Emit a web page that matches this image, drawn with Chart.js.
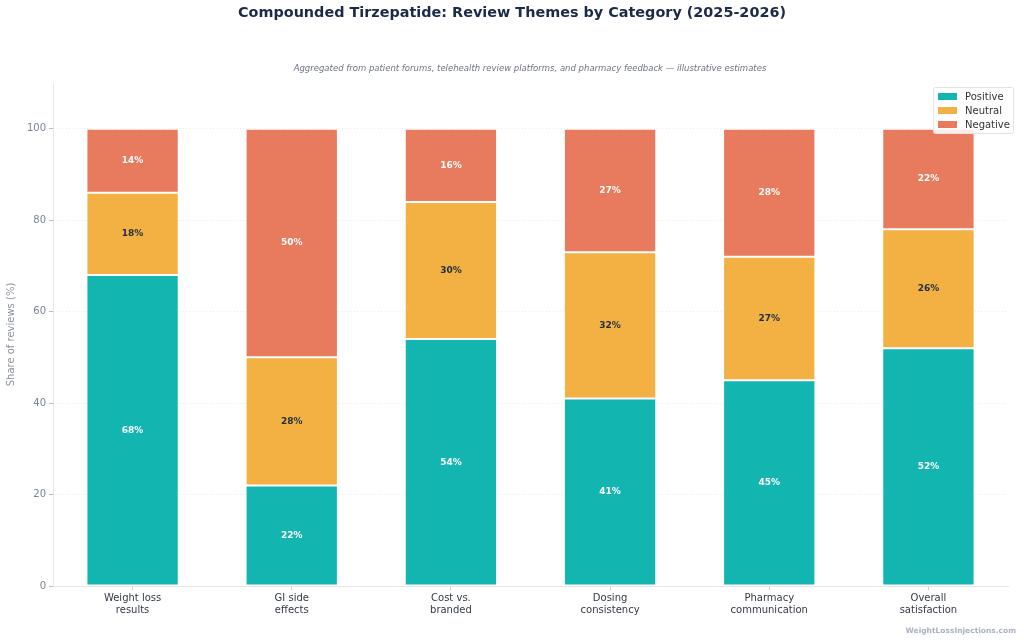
<!DOCTYPE html>
<html>
<head>
<meta charset="utf-8">
<script src="https://cdn.jsdelivr.net/npm/chart.js@4.4.1/dist/chart.umd.min.js"></script>
<style>
  html, body { margin: 0; padding: 0; background: #fff; }
  #wrap { width: 1024px; height: 641px; position: relative; }
</style>
</head>
<body>
<div id="wrap"><canvas id="reviewChart"></canvas></div>
<script>
// ------------------ Data ------------------
const categories = [
  ["Weight loss", "results"],
  ["GI side", "effects"],
  ["Cost vs.", "branded"],
  ["Dosing", "consistency"],
  ["Pharmacy", "communication"],
  ["Overall", "satisfaction"]
];
const positive = [68, 22, 54, 41, 45, 52];
const neutral = [18, 28, 30, 32, 27, 26];
const negative = [14, 50, 16, 27, 28, 22];
const yTicks = [0, 20, 40, 60, 80, 100];

const seriesNames = ["Positive", "Neutral", "Negative"];
const seriesColors = ["#13b5b1", "#f2b142", "#e87a5d"];
const labelColors = ["#ffffff", "#1f2d3d", "#ffffff"];

const FONT = "'DejaVu Sans', sans-serif";

// ------------------ Title / subtitle / watermark ------------------
const headerPlugin = {
  id: "header",
  afterDraw(chart) {
    const c = chart.ctx;
    c.save();
    c.textAlign = "center";
    c.textBaseline = "middle";
    c.fillStyle = "#1b2a47";
    c.font = "bold 14.4px " + FONT;
    c.fillText("Compounded Tirzepatide: Review Themes by Category (2025-2026)", 512, 13);
    c.fillStyle = "#6b7280";
    c.font = "italic 8.5px " + FONT;
    c.fillText("Aggregated from patient forums, telehealth review platforms, and pharmacy feedback \u2014 illustrative estimates", 530, 69);
    c.textAlign = "right";
    c.fillStyle = "#a9b0c2";
    c.font = "bold 7.5px " + FONT;
    c.fillText("WeightLossInjections.com", 1016, 631);
    c.restore();
  }
};

// ------------------ Segment labels ------------------
const segmentLabels = {
  id: "segmentLabels",
  afterDatasetsDraw(chart) {
    const c = chart.ctx;
    c.save();
    c.textAlign = "center";
    c.textBaseline = "middle";
    c.font = "bold 9px " + FONT;
    chart.data.datasets.forEach((ds, i) => {
      chart.getDatasetMeta(i).data.forEach((bar, j) => {
        const mid = (bar.y + bar.base) / 2;
        c.fillStyle = labelColors[i];
        c.fillText(ds.data[j] + "%", bar.x, mid);
      });
    });
    c.restore();
  }
};

// ------------------ Legend box inside plot ------------------
const boxLegend = {
  id: "boxLegend",
  afterDraw(chart) {
    const c = chart.ctx;
    const x = 933, y = 87, w = 80, h = 46;
    c.save();
    c.fillStyle = "rgba(255,255,255,0.85)";
    c.strokeStyle = "#e3e3e3";
    c.lineWidth = 1;
    c.beginPath();
    c.roundRect(x + 0.5, y + 0.5, w, h, 2);
    c.fill();
    c.stroke();
    c.font = "10px " + FONT;
    c.textBaseline = "middle";
    seriesNames.forEach((name, i) => {
      const cy = y + 9 + i * 14;
      c.fillStyle = seriesColors[i];
      c.fillRect(x + 5, cy - 3, 19, 7);
      c.fillStyle = "#333333";
      c.fillText(name, x + 32, cy + 1);
    });
    c.restore();
  }
};

const ctx = document.getElementById("reviewChart").getContext("2d");

new Chart(ctx, {
  type: "bar",
  data: {
    labels: categories,
    datasets: [positive, neutral, negative].map((vals, i) => ({
      label: seriesNames[i],
      data: vals,
      backgroundColor: seriesColors[i],
      borderColor: "#ffffff",
      borderWidth: 1,
      borderSkipped: false,
      barPercentage: 0.58,
      categoryPercentage: 1.0
    }))
  },
  options: {
    responsive: true,
    maintainAspectRatio: false,
    animation: false,
    layout: {
      padding: { top: 83, bottom: 0, left: 0, right: 16 }
    },
    plugins: {
      legend: { display: false },
      tooltip: { enabled: false }
    },
    scales: {
      x: {
        stacked: true,
        grid: {
          offset: false,
          drawOnChartArea: false,
          drawTicks: true,
          tickLength: 4,
          color: "#cccccc"
        },
        border: { color: "#e6e6e6" },
        ticks: {
          color: "#333a45",
          font: { family: FONT, size: 10 },
          padding: 2,
          maxRotation: 0,
          autoSkip: false
        },
        afterFit(scale) { scale.height = 55; }
      },
      y: {
        stacked: true,
        min: 0,
        max: 110,
        afterBuildTicks(scale) {
          scale.ticks = yTicks.map(v => ({ value: v }));
        },
        grid: {
          color: "#ececec",
          tickColor: "#bbbbbb",
          tickLength: 4,
          drawTicks: true
        },
        border: { color: "#e6e6e6", dash: [1, 2] },
        ticks: {
          color: "#7a8494",
          font: { family: FONT, size: 10 },
          padding: 3
        },
        title: {
          display: true,
          text: "Share of reviews (%)",
          color: "#8a909c",
          font: { family: FONT, size: 10 },
          padding: { top: 5, bottom: 4 }
        },
        afterFit(scale) { scale.width = 53; }
      }
    }
  },
  plugins: [headerPlugin, segmentLabels, boxLegend]
});
</script>
</body>
</html>
